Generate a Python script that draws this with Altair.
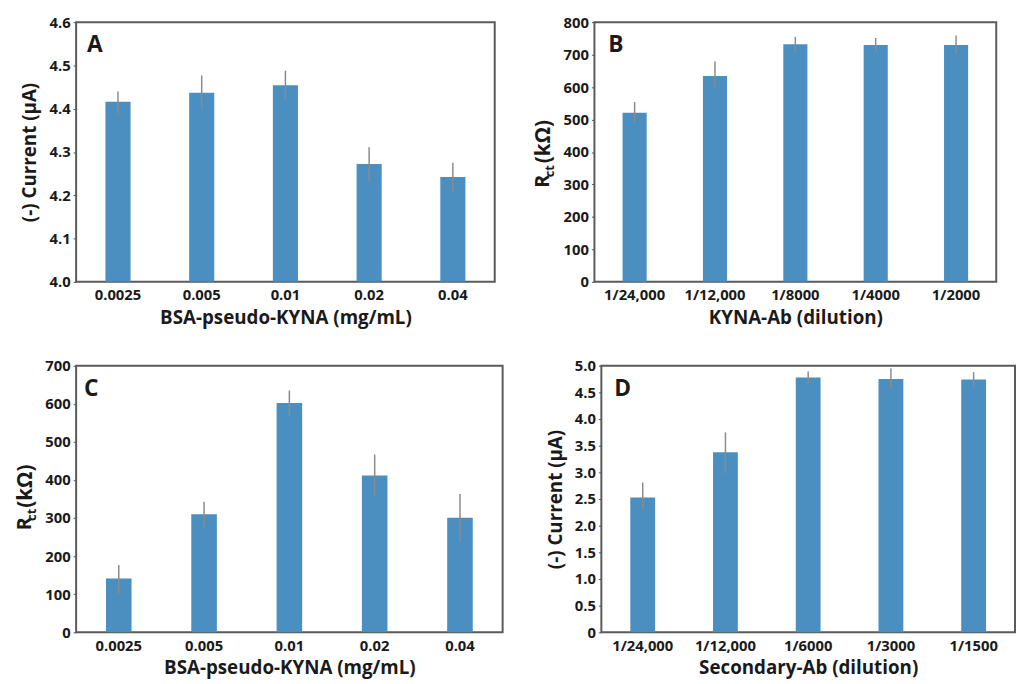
import altair as alt
import pandas as pd

# ---------------- data ----------------
A_cats = ["0.0025", "0.005", "0.01", "0.02", "0.04"]
A_vals = [4.416, 4.437, 4.454, 4.272, 4.242]
A_lo = [4.389, 4.399, 4.420, 4.232, 4.208]
A_hi = [4.440, 4.477, 4.488, 4.311, 4.275]

B_cats = ["1/24,000", "1/12,000", "1/8000", "1/4000", "1/2000"]
B_vals = [521, 634, 732, 730, 730]
B_lo = [492, 600, 708, 710, 703]
B_hi = [554, 679, 755, 751, 759]

C_cats = ["0.0025", "0.005", "0.01", "0.02", "0.04"]
C_vals = [141, 310, 602, 412, 301]
C_lo = [102, 277, 568, 360, 238]
C_hi = [177, 343, 635, 467, 363]

D_cats = ["1/24,000", "1/12,000", "1/6000", "1/3000", "1/1500"]
D_vals = [2.53, 3.375, 4.78, 4.75, 4.74]
D_lo = [2.30, 2.98, 4.66, 4.57, 4.61]
D_hi = [2.81, 3.75, 4.89, 4.95, 4.88]

A_ticks = [4.0, 4.1, 4.2, 4.3, 4.4, 4.5, 4.6]
B_ticks = [0, 100, 200, 300, 400, 500, 600, 700, 800]
C_ticks = [0, 100, 200, 300, 400, 500, 600, 700]
D_ticks = [0, 0.5, 1.0, 1.5, 2.0, 2.5, 3.0, 3.5, 4.0, 4.5, 5.0]

BAR = "#4b8fc1"
ERR = "#8a8a8a"
FONT = "Open Sans"
TXT = "#1a1a1a"


def panel(cats, vals, lo, hi, xtitle, ytitle, domain, ticks, lab_expr,
          letter, lpos, w, h, rct=None, tpad=9, spacer=None):
    df = pd.DataFrame({"c": cats, "v": vals, "lo": lo, "hi": hi,
                       "base": [domain[0]] * len(cats)})
    xenc = alt.X("c:N", sort=cats, title=xtitle,
                 scale=alt.Scale(paddingInner=0.7, paddingOuter=0.35),
                 axis=alt.Axis(labelAngle=0, ticks=False, domain=False,
                               labelPadding=6, titlePadding=6,
                               labelFontSize=15, titleFontSize=19))
    yaxis = alt.Axis(values=ticks, labelExpr=lab_expr, grid=False, domain=False,
                     ticks=True, tickSize=3, tickColor="#555555",
                     labelPadding=3, titlePadding=tpad,
                     labelFontSize=15, titleFontSize=19)
    yscale = alt.Scale(domain=domain, nice=False, zero=False)
    ttl = ytitle if ytitle else ""
    yenc = alt.Y("v:Q", scale=yscale, axis=yaxis, title=ttl)
    yenc2 = alt.Y("lo:Q", scale=yscale, axis=yaxis, title=ttl)
    bars = alt.Chart(df).mark_bar(color=BAR).encode(
        x=xenc, y=yenc, y2="base:Q")
    errs = alt.Chart(df).mark_rule(color=ERR, strokeWidth=1.5).encode(
        x=xenc, y=yenc2, y2="hi:Q")
    let = alt.Chart(pd.DataFrame({"t": [letter]})).mark_text(
        fontSize=23, fontWeight="bold", align="left", baseline="alphabetic",
        color=TXT, font=FONT).encode(x=alt.value(lpos[0]), y=alt.value(lpos[1]), text="t:N")
    layers = [bars, errs, let]
    if rct is not None:
        (rx, ry), (cx, cy), (kx, ky) = rct
        common = dict(angle=270, fontWeight="bold", align="center",
                      baseline="top", color=TXT, font=FONT)
        r = alt.Chart(pd.DataFrame({"t": ["R"]})).mark_text(fontSize=20, **common).encode(
            x=alt.value(rx), y=alt.value(ry), text="t:N")
        c = alt.Chart(pd.DataFrame({"t": ["ct"]})).mark_text(fontSize=13, **common).encode(
            x=alt.value(cx), y=alt.value(cy), text="t:N")
        k = alt.Chart(pd.DataFrame({"t": ["(kΩ)"]})).mark_text(fontSize=21, **common).encode(
            x=alt.value(kx), y=alt.value(ky), text="t:N")
        layers += [r, c, k]
    if spacer is not None:
        sp = alt.Chart(pd.DataFrame({"t": [0]})).mark_rule(strokeOpacity=0).encode(
            x=alt.value(spacer), y=alt.value(0), y2=alt.value(10))
        layers.append(sp)
    return alt.layer(*layers).properties(width=w, height=h)


f1 = "format(datum.value, '.1f')"
fd = "format(datum.value, 'd')"
fD = "datum.value == 0 ? '0' : format(datum.value, '.1f')"

pA = panel(A_cats, A_vals, A_lo, A_hi, "BSA-pseudo-KYNA (mg/mL)", "(-) Current (µA)",
           [4.0, 4.6], A_ticks, f1, "A", (11, 30), 424, 263, tpad=10, spacer=-68)
pB = panel(B_cats, B_vals, B_lo, B_hi, "KYNA-Ab (dilution)", None,
           [0, 800], B_ticks, fd, "B", (14, 30), 407, 263,
           rct=((-62, 161), (-51, 151), (-62, 121)))
pC = panel(C_cats, C_vals, C_lo, C_hi, "BSA-pseudo-KYNA (mg/mL)", None,
           [0, 700], C_ticks, fd, "C", (8, 31), 432, 270,
           rct=((-62, 160), (-51, 151), (-62, 122)))
pD = panel(D_cats, D_vals, D_lo, D_hi, "Secondary-Ab (dilution)", "(-) Current (µA)",
           [0, 5.0], D_ticks, fD, "D", (13, 31), 419, 270, tpad=9)

chart = alt.vconcat(
    alt.hconcat(pA, pB, spacing=37),
    alt.hconcat(pC, pD, spacing=42),
    spacing=30,
).configure(
    font=FONT,
    padding={"left": 0, "top": 2, "right": 0, "bottom": 0},
).configure_view(
    stroke="#5a5a5a", strokeWidth=2,
).configure_axis(
    labelFont=FONT, titleFont=FONT, labelFontWeight="bold", titleFontWeight="bold",
    labelColor=TXT, titleColor=TXT,
)

chart.save("out.html", embed_options={"renderer": "svg", "actions": False})
